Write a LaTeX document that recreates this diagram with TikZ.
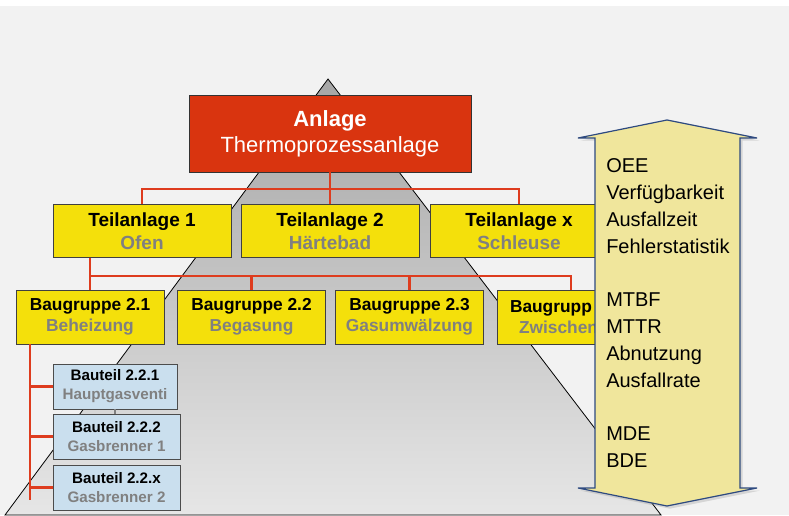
\documentclass[tikz,border=0pt]{standalone}
\usepackage{fontspec}
\setmainfont{Liberation Sans}
\definecolor{PlantRed}{HTML}{D9340F}
\definecolor{LinkRed}{HTML}{DE3C1E}
\definecolor{UnitYellow}{HTML}{F4E00B}
\definecolor{PartBlue}{HTML}{CADFEE}
\definecolor{SubGray}{HTML}{808080}
\definecolor{KpiFill}{HTML}{F0E69C}
\definecolor{KpiLine}{HTML}{2E4A80}
\definecolor{PageGray}{HTML}{F2F2F2}
\definecolor{PyrTop}{HTML}{A6A6A6}
\definecolor{PyrBottom}{HTML}{E6E6E6}
\usepackage{tikz}
\usetikzlibrary{shadows}

\begin{document}
\begin{tikzpicture}[
  x=0.75pt, y=-0.75pt,
  plant/.style={
    rectangle, draw=black!80, fill=PlantRed, text=white,
    minimum width=211.5pt, minimum height=57.75pt,
    align=center, font=\fontsize{16.5}{19.5}\selectfont
  },
  unit/.style={
    rectangle, draw=black!75, fill=UnitYellow,
    minimum width=133.5pt, minimum height=39.75pt,
    align=center, font=\bfseries\fontsize{14.25}{17.25}\selectfont
  },
  group/.style={
    rectangle, draw=black!75, fill=UnitYellow,
    minimum width=111pt, minimum height=40.5pt,
    align=center, font=\bfseries\fontsize{13}{15.75}\selectfont
  },
  grouptext/.style={
    inner sep=0pt, align=left, font=\bfseries\fontsize{13}{15.75}\selectfont
  },
  part/.style={
    rectangle, draw=black!70, fill=PartBlue,
    minimum width=95.25pt, minimum height=33.75pt,
    align=center, font=\bfseries\fontsize{11.4}{14.25}\selectfont
  },
  kpitext/.style={
    inner sep=0pt, align=left, font=\fontsize{15}{20.1}\selectfont
  },
  link/.style={draw=LinkRed, line width=2pt},
]

% page and pyramid
\useasboundingbox (0,0) rectangle (789,515);
\fill[white] (0,0) rectangle (789,515);
\fill[PageGray] (0,6) rectangle (789,515);
\shade[top color=PyrTop, bottom color=PyrBottom, draw=black, line width=0.6pt]
  (328,79) -- (661,515) -- (5,515) -- cycle;

\coordinate (busA) at (330,189);
\coordinate (busB) at (330,276);
\coordinate (rail) at (30,500);

% levels
\node[plant] (anlage) at (330,133.5) {\textbf{Anlage}\\Thermoprozessanlage};

\node[unit] (teil1) at (142,231) {Teilanlage 1\\\textcolor{SubGray}{Ofen}};
\node[unit] (teil2) at (330,231) {Teilanlage 2\\\textcolor{SubGray}{Härtebad}};
\node[unit] (teilx) at (519,231) {Teilanlage x\\\textcolor{SubGray}{Schleuse}};

\node[group] (bg1) at (90,317)    {Baugruppe 2.1\\\textcolor{SubGray}{Beheizung}};
\node[group] (bg2) at (251.5,317) {Baugruppe 2.2\\\textcolor{SubGray}{Begasung}};
\node[group] (bg3) at (409.5,317) {Baugruppe 2.3\\\textcolor{SubGray}{Gasumwälzung}};
\node[group] (bg4) at (571,317)   {};
\node[grouptext, anchor=west] (bg4txt) at ([xshift=9.75pt]bg4.west)
  {Baugrupp\\\hspace{6.75pt}\textcolor{SubGray}{Zwischen}};

\node[part, minimum width=93pt] (bt1) at (115,386.5) {Bauteil 2.2.1\\\textcolor{SubGray}{Hauptgasventi}};
\node[part] (bt2) at (116.5,436.5) {Bauteil 2.2.2\\\textcolor{SubGray}{Gasbrenner 1}};
\node[part] (bt3) at (116.5,487.5) {Bauteil 2.2.x\\\textcolor{SubGray}{Gasbrenner 2}};

% connectors
\draw[link] (anlage.south) -- (teil2.north);
\draw[link] (teil1.north) |- (busA) -| (teilx.north);
\draw[link] (teil1.south -| bg1.north) -- (bg1.north);
\draw[link] (busB -| bg1.north) -- (busB -| bg4.north) -- (bg4.north);
\draw[link] (busB -| bg2.north) -- (bg2.north);
\draw[link] (busB -| bg3.north) -- (bg3.north);
\draw[link] (bg1.south -| rail) -- (rail);
\draw[link] (bt1.west -| rail) -- (bt1.west);
\draw[link] (bt2.west -| rail) -- (bt2.west);
\draw[link] (bt3.west -| rail) -- (bt3.west);
\draw[gray, line width=1.2pt] (bt1.south) -- (bt1.south |- bt2.north);

% KPI arrow
\draw[KpiLine, fill=KpiFill, line width=0.9pt,
      drop shadow={shadow xshift=2pt, shadow yshift=-2pt, opacity=0.25}]
  (667,120) -- (757,138) -- (740,138) -- (740,488) -- (757,488) -- (667,506)
  -- (578,488) -- (595,488) -- (595,138) -- (578,138) -- cycle;
\node[kpitext, anchor=north west] (kpi) at (606,158.5)
  {OEE\\Verfügbarkeit\\Ausfallzeit\\Fehlerstatistik\\[20.1pt]
   MTBF\\MTTR\\Abnutzung\\Ausfallrate\\[20.1pt]
   MDE\\BDE};

\end{tikzpicture}
\end{document}
